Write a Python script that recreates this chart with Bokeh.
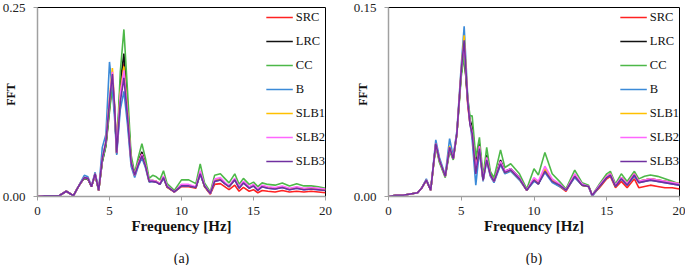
from bokeh.plotting import figure
from bokeh.layouts import row
from bokeh.models import FixedTicker, NumeralTickFormatter, Range1d, Title
from bokeh.embed import file_html
from bokeh.resources import INLINE

# ---------------- data ----------------
series_names = ["SRC", "LRC", "CC", "B", "SLB1", "SLB2", "SLB3"]
series_colors = ["#FF2222", "#111111", "#4DB848", "#3B8AD8", "#FFC000", "#FF66FF", "#7030A0"]
x_ticks = [0, 5, 10, 15, 20]

# panel (a)
freq_a = [0, 0.5, 1, 1.5, 2, 2.5, 2.75, 3, 3.25, 3.5,
          3.75, 4, 4.25, 4.5, 4.75, 5, 5.2, 5.35, 5.5, 5.75,
          6, 6.25, 6.5, 6.75, 7, 7.25, 7.5, 7.75, 8, 8.25,
          8.5, 8.75, 9, 9.5, 10, 10.5, 11, 11.3, 11.6, 12,
          12.3, 12.7, 13, 13.3, 13.7, 14, 14.3, 14.7, 15, 15.3,
          15.6, 16, 16.5, 17, 17.5, 18, 18.5, 19, 19.5, 20]
src_a = [0.000, 0.001, 0.001, 0.001, 0.007, 0.001, 0.010, 0.018, 0.024, 0.023,
         0.013, 0.029, 0.008, 0.048, 0.068, 0.115, 0.150, 0.115, 0.057, 0.140,
         0.176, 0.115, 0.047, 0.028, 0.045, 0.057, 0.042, 0.021, 0.020, 0.019,
         0.016, 0.025, 0.012, 0.006, 0.013, 0.013, 0.011, 0.031, 0.013, 0.003,
         0.016, 0.017, 0.013, 0.009, 0.015, 0.007, 0.012, 0.007, 0.009, 0.005,
         0.008, 0.007, 0.006, 0.008, 0.006, 0.007, 0.006, 0.007, 0.006, 0.005]
lrc_a = [0.000, 0.001, 0.001, 0.001, 0.007, 0.001, 0.010, 0.018, 0.024, 0.023,
         0.013, 0.029, 0.008, 0.046, 0.068, 0.118, 0.154, 0.118, 0.057, 0.150,
         0.189, 0.122, 0.049, 0.029, 0.046, 0.059, 0.043, 0.021, 0.021, 0.020,
         0.017, 0.026, 0.013, 0.006, 0.015, 0.015, 0.012, 0.032, 0.014, 0.004,
         0.021, 0.023, 0.018, 0.013, 0.023, 0.012, 0.019, 0.012, 0.015, 0.009,
         0.014, 0.012, 0.011, 0.013, 0.010, 0.012, 0.010, 0.011, 0.010, 0.009]
cc_a = [0.000, 0.001, 0.001, 0.001, 0.007, 0.001, 0.010, 0.018, 0.024, 0.023,
        0.013, 0.029, 0.008, 0.046, 0.066, 0.112, 0.148, 0.115, 0.058, 0.165,
        0.221, 0.140, 0.055, 0.031, 0.052, 0.070, 0.050, 0.024, 0.028, 0.026,
        0.022, 0.034, 0.017, 0.008, 0.022, 0.022, 0.017, 0.043, 0.018, 0.006,
        0.028, 0.030, 0.024, 0.018, 0.030, 0.016, 0.024, 0.016, 0.019, 0.013,
        0.018, 0.016, 0.015, 0.018, 0.014, 0.017, 0.014, 0.014, 0.013, 0.011]
b_a = [0.000, 0.001, 0.001, 0.001, 0.007, 0.001, 0.010, 0.019, 0.028, 0.026,
       0.014, 0.032, 0.009, 0.065, 0.082, 0.178, 0.140, 0.105, 0.055, 0.115,
       0.139, 0.095, 0.040, 0.025, 0.040, 0.051, 0.038, 0.019, 0.020, 0.019,
       0.016, 0.024, 0.013, 0.006, 0.014, 0.014, 0.012, 0.029, 0.014, 0.004,
       0.020, 0.022, 0.017, 0.013, 0.022, 0.011, 0.018, 0.011, 0.014, 0.008,
       0.013, 0.011, 0.010, 0.012, 0.009, 0.011, 0.009, 0.010, 0.009, 0.008]
slb1_a = [0.000, 0.001, 0.001, 0.001, 0.007, 0.001, 0.010, 0.018, 0.025, 0.024,
          0.013, 0.030, 0.008, 0.050, 0.073, 0.130, 0.170, 0.122, 0.058, 0.138,
          0.172, 0.112, 0.046, 0.028, 0.044, 0.056, 0.041, 0.020, 0.021, 0.020,
          0.017, 0.026, 0.013, 0.006, 0.015, 0.015, 0.012, 0.032, 0.014, 0.004,
          0.021, 0.023, 0.018, 0.013, 0.023, 0.012, 0.019, 0.012, 0.015, 0.009,
          0.014, 0.012, 0.011, 0.013, 0.010, 0.012, 0.010, 0.011, 0.010, 0.009]
slb2_a = [0.000, 0.001, 0.001, 0.001, 0.007, 0.001, 0.010, 0.018, 0.025, 0.024,
          0.013, 0.030, 0.008, 0.050, 0.072, 0.128, 0.165, 0.121, 0.058, 0.135,
          0.167, 0.110, 0.046, 0.028, 0.044, 0.056, 0.041, 0.021, 0.021, 0.020,
          0.017, 0.027, 0.014, 0.006, 0.016, 0.016, 0.013, 0.034, 0.015, 0.004,
          0.023, 0.025, 0.019, 0.014, 0.024, 0.013, 0.020, 0.013, 0.016, 0.010,
          0.015, 0.013, 0.012, 0.014, 0.011, 0.013, 0.011, 0.012, 0.011, 0.010]
slb3_a = [0.000, 0.001, 0.001, 0.001, 0.007, 0.001, 0.010, 0.018, 0.025, 0.024,
          0.013, 0.030, 0.008, 0.050, 0.072, 0.125, 0.162, 0.120, 0.058, 0.125,
          0.157, 0.105, 0.045, 0.028, 0.042, 0.054, 0.040, 0.020, 0.020, 0.019,
          0.016, 0.025, 0.013, 0.006, 0.014, 0.014, 0.012, 0.030, 0.014, 0.004,
          0.020, 0.022, 0.017, 0.013, 0.022, 0.011, 0.018, 0.011, 0.014, 0.008,
          0.013, 0.011, 0.010, 0.012, 0.009, 0.011, 0.009, 0.010, 0.009, 0.008]
y_ticks_a = [0, 0.25]

# panel (b)
freq_b = [0, 0.5, 1, 1.5, 2, 2.3, 2.6, 2.9, 3.25, 3.5,
          3.9, 4.2, 4.45, 4.7, 5.0, 5.2, 5.45, 5.6, 5.75, 6.0,
          6.25, 6.5, 6.75, 7.0, 7.25, 7.7, 8.0, 8.4, 9.0, 9.5,
          10.0, 10.3, 10.75, 11.25, 11.75, 12.2, 12.8, 13.3, 13.75, 14.0,
          14.5, 15.0, 15.25, 15.6, 16.0, 16.4, 16.9, 17.2, 17.6, 18.0,
          18.5, 19.0, 19.5, 20.0]
src_b = [0.000, 0.001, 0.001, 0.002, 0.003, 0.007, 0.013, 0.005, 0.041, 0.028,
         0.016, 0.037, 0.030, 0.050, 0.098, 0.116, 0.072, 0.058, 0.055, 0.026,
         0.040, 0.013, 0.031, 0.017, 0.012, 0.028, 0.019, 0.021, 0.014, 0.005,
         0.013, 0.010, 0.021, 0.012, 0.008, 0.004, 0.016, 0.009, 0.008, 0.001,
         0.007, 0.014, 0.016, 0.007, 0.012, 0.007, 0.014, 0.007, 0.008, 0.009,
         0.008, 0.007, 0.007, 0.006]
lrc_b = [0.000, 0.001, 0.001, 0.002, 0.003, 0.007, 0.013, 0.005, 0.042, 0.029,
         0.016, 0.038, 0.030, 0.050, 0.098, 0.112, 0.075, 0.061, 0.055, 0.029,
         0.042, 0.013, 0.033, 0.018, 0.012, 0.029, 0.020, 0.022, 0.015, 0.005,
         0.014, 0.010, 0.021, 0.013, 0.009, 0.005, 0.017, 0.009, 0.008, 0.001,
         0.008, 0.016, 0.018, 0.008, 0.015, 0.010, 0.018, 0.012, 0.013, 0.014,
         0.013, 0.012, 0.011, 0.010]
cc_b = [0.000, 0.001, 0.001, 0.002, 0.003, 0.007, 0.013, 0.005, 0.040, 0.027,
        0.015, 0.036, 0.029, 0.049, 0.095, 0.112, 0.078, 0.064, 0.064, 0.031,
        0.047, 0.016, 0.039, 0.020, 0.015, 0.037, 0.023, 0.026, 0.018, 0.006,
        0.022, 0.017, 0.035, 0.018, 0.012, 0.006, 0.021, 0.011, 0.009, 0.001,
        0.010, 0.018, 0.020, 0.010, 0.018, 0.012, 0.020, 0.014, 0.016, 0.017,
        0.016, 0.014, 0.012, 0.010]
b_b = [0.000, 0.001, 0.001, 0.002, 0.003, 0.007, 0.014, 0.005, 0.045, 0.031,
       0.017, 0.046, 0.032, 0.052, 0.104, 0.135, 0.078, 0.059, 0.045, 0.009,
       0.036, 0.012, 0.028, 0.016, 0.011, 0.025, 0.018, 0.020, 0.013, 0.005,
       0.012, 0.010, 0.019, 0.011, 0.008, 0.005, 0.015, 0.009, 0.008, 0.000,
       0.008, 0.015, 0.017, 0.008, 0.014, 0.009, 0.016, 0.011, 0.012, 0.013,
       0.012, 0.011, 0.010, 0.009]
slb1_b = [0.000, 0.001, 0.001, 0.002, 0.003, 0.007, 0.013, 0.005, 0.042, 0.029,
          0.016, 0.040, 0.030, 0.050, 0.101, 0.128, 0.076, 0.058, 0.050, 0.020,
          0.039, 0.013, 0.030, 0.017, 0.012, 0.027, 0.019, 0.021, 0.014, 0.005,
          0.014, 0.011, 0.022, 0.013, 0.009, 0.005, 0.017, 0.009, 0.008, 0.001,
          0.008, 0.016, 0.018, 0.008, 0.015, 0.010, 0.018, 0.012, 0.013, 0.014,
          0.013, 0.012, 0.011, 0.010]
slb2_b = [0.000, 0.001, 0.001, 0.002, 0.003, 0.007, 0.013, 0.005, 0.042, 0.029,
          0.016, 0.039, 0.030, 0.050, 0.100, 0.122, 0.075, 0.058, 0.051, 0.021,
          0.040, 0.013, 0.031, 0.017, 0.012, 0.028, 0.020, 0.022, 0.015, 0.005,
          0.015, 0.012, 0.024, 0.014, 0.010, 0.005, 0.018, 0.010, 0.008, 0.001,
          0.009, 0.016, 0.018, 0.009, 0.015, 0.010, 0.018, 0.012, 0.013, 0.014,
          0.013, 0.012, 0.011, 0.010]
slb3_b = [0.000, 0.001, 0.001, 0.002, 0.003, 0.007, 0.013, 0.005, 0.042, 0.029,
          0.016, 0.039, 0.030, 0.050, 0.100, 0.124, 0.075, 0.057, 0.050, 0.018,
          0.038, 0.013, 0.029, 0.017, 0.012, 0.026, 0.019, 0.021, 0.014, 0.005,
          0.013, 0.010, 0.020, 0.012, 0.009, 0.005, 0.016, 0.009, 0.008, 0.001,
          0.008, 0.015, 0.017, 0.008, 0.014, 0.009, 0.017, 0.011, 0.012, 0.013,
          0.012, 0.011, 0.010, 0.009]
y_ticks_b = [0, 0.15]

FONT = "Liberation Serif"
NBSP = "\u00a0"


def make_panel(freq, series, y_ticks, caption, width, border_left, border_right,
               tick_standoff, label_standoff, legend_pad):
    p = figure(width=width, height=265, x_range=Range1d(0, 20),
               y_range=Range1d(y_ticks[0], y_ticks[-1]),
               output_backend="svg", toolbar_location=None,
               min_border_left=border_left, min_border_right=border_right,
               min_border_top=7, min_border_bottom=67)
    p.outline_line_color = "black"
    p.outline_line_width = 1
    p.grid.visible = False
    p.background_fill_color = "white"
    p.border_fill_color = "white"

    for name, col, vals in zip(series_names, series_colors, series):
        p.line(freq, vals, line_color=col, line_width=1.6, legend_label=name)

    # bottom axis
    xa = p.xaxis[0]
    xa.ticker = FixedTicker(ticks=x_ticks)
    xa.minor_tick_line_color = None
    xa.major_tick_in = 0
    xa.major_tick_out = 4
    xa.axis_line_color = "#A0A0A0"
    xa.axis_line_width = 1.5
    xa.major_tick_line_color = "#A0A0A0"
    xa.major_label_text_font = FONT
    xa.major_label_text_font_size = "13px"
    xa.major_label_text_color = "#222222"
    xa.major_label_standoff = 6
    xa.axis_label = "Frequency [Hz]"
    xa.axis_label_text_font = FONT
    xa.axis_label_text_font_size = "15px"
    xa.axis_label_text_font_style = "bold"
    xa.axis_label_text_color = "#111111"
    xa.axis_label_standoff = 0

    # left axis
    ya = p.yaxis[0]
    ya.ticker = FixedTicker(ticks=y_ticks)
    ya.formatter = NumeralTickFormatter(format="0.00")
    ya.minor_tick_line_color = None
    ya.major_tick_in = 0
    ya.major_tick_out = 4
    ya.axis_line_color = "#A0A0A0"
    ya.axis_line_width = 1.5
    ya.major_tick_line_color = "#A0A0A0"
    ya.major_label_text_font = FONT
    ya.major_label_text_font_size = "13px"
    ya.major_label_text_color = "#222222"
    ya.major_label_standoff = tick_standoff
    ya.axis_label = NBSP * 5 + "FFT"
    ya.axis_label_text_font = FONT
    ya.axis_label_text_font_size = "12px"
    ya.axis_label_text_font_style = "bold"
    ya.axis_label_text_color = "#111111"
    ya.axis_label_standoff = label_standoff

    # caption (blank first line pushes it towards the bottom edge)
    p.add_layout(Title(text=NBSP + "\n" + caption, align="center", text_font=FONT,
                       text_font_size="14px", text_font_style="normal",
                       text_line_height=0.8,
                       text_color="#111111", standoff=0), "below")

    lg = p.legend[0]
    lg.location = "top_right"
    lg.margin = 0
    lg.padding = legend_pad
    lg.spacing = 4
    lg.glyph_height = 20
    lg.label_height = 20
    lg.glyph_width = 27
    lg.label_standoff = 3
    lg.border_line_color = None
    lg.background_fill_alpha = 0
    lg.label_text_font = FONT
    lg.label_text_font_size = "12.5px"
    lg.label_text_color = "#111111"
    return p


pa = make_panel(freq_a, [src_a, lrc_a, cc_a, b_a, slb1_a, slb2_a, slb3_a], y_ticks_a, "(a)",
                340, 35, 15, 8, -18, 6)
pb = make_panel(freq_b, [src_b, lrc_b, cc_b, b_b, slb1_b, slb2_b, slb3_b], y_ticks_b, "(b)",
                345, 48, 6, 8, -19, 5)

layout = row(pa, pb, spacing=0)

open("out.html", "w").write(file_html(layout, INLINE))
